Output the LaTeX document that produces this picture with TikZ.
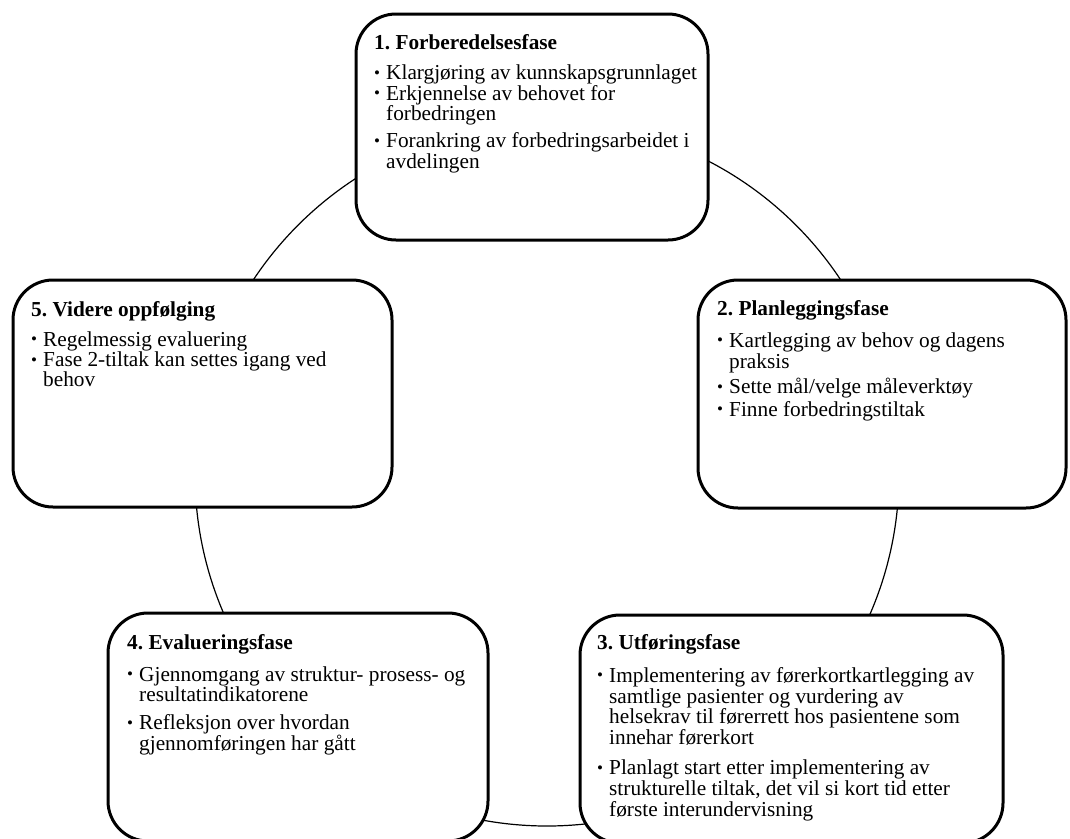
\documentclass[tikz,border=0pt]{standalone}
\usepackage{fontspec}
\setmainfont{Liberation Serif}
\frenchspacing
\newcommand{\bul}{\makebox[12pt][l]{\fontsize{17}{17}\selectfont\raisebox{1.5pt}{•}}}
\newcommand{\ind}{\hspace*{12pt}}
\begin{document}
\begin{tikzpicture}[x=1pt,y=-1pt,
  phase/.style={draw=black,line width=3pt,rounded corners=40pt,fill=white,inner sep=0pt},
  txt/.style={anchor=north west,inner sep=0pt,align=left},
  ring/.style={draw=black,line width=1.2pt}]
\useasboundingbox (0,0) rectangle (1070,838);
\coordinate (c) at (547,474);
\draw[ring] (c) circle[radius=352];
\node[phase,minimum width=352pt,minimum height=226pt] (b1) at (532,127) {};
\node[phase,minimum width=368pt,minimum height=228pt] (b2) at (882,394) {};
\node[phase,minimum width=379pt,minimum height=227pt] (b5) at (202.5,393.5) {};
\node[phase,minimum width=380pt,minimum height=228pt] (b4) at (298,727) {};
\node[phase,minimum width=423pt,minimum height=228pt] (b3) at (791.5,729) {};
\node[txt,font=\fontsize{21.3}{20.5}\selectfont] (t1) at (374,34.6) {\textbf{1. Forberedelsesfase}\\[9.5pt]
\bul Klargjøring av kunnskapsgrunnlaget\\
\bul Erkjennelse av behovet for\\
\ind forbedringen\\[6.5pt]
\bul Forankring av forbedringsarbeidet i\\
\ind avdelingen};
\node[txt,font=\fontsize{21.3}{20.6}\selectfont] (t2) at (717,300.6) {\textbf{2. Planleggingsfase}\\[11pt]
\bul Kartlegging av behov og dagens\\
\ind praksis\\[5pt]
\bul Sette mål/velge måleverktøy\\[2pt]
\bul Finne forbedringstiltak};
\node[txt,font=\fontsize{21.3}{20.3}\selectfont] (t5) at (31,300.8) {\textbf{5. Videre oppfølging}\\[10pt]
\bul Regelmessig evaluering\\
\bul Fase 2-tiltak kan settes igang ved\\
\ind behov};
\node[txt,font=\fontsize{21.3}{20.3}\selectfont] (t4) at (127,633.8) {\textbf{4. Evalueringsfase}\\[12pt]
\bul Gjennomgang av struktur- prosess- og\\
\ind resultatindikatorene\\[8pt]
\bul Refleksjon over hvordan\\
\ind gjennomføringen har gått};
\node[txt,font=\fontsize{21.3}{20.6}\selectfont] (t3) at (597,634.6) {\textbf{3. Utføringsfase}\\[12pt]
\bul Implementering av førerkortkartlegging av\\
\ind samtlige pasienter og vurdering av\\
\ind helsekrav til førerrett hos pasientene som\\
\ind innehar førerkort\\[10pt]
\bul Planlagt start etter implementering av\\
\ind strukturelle tiltak, det vil si kort tid etter\\
\ind første interundervisning};
\end{tikzpicture}
\end{document}
